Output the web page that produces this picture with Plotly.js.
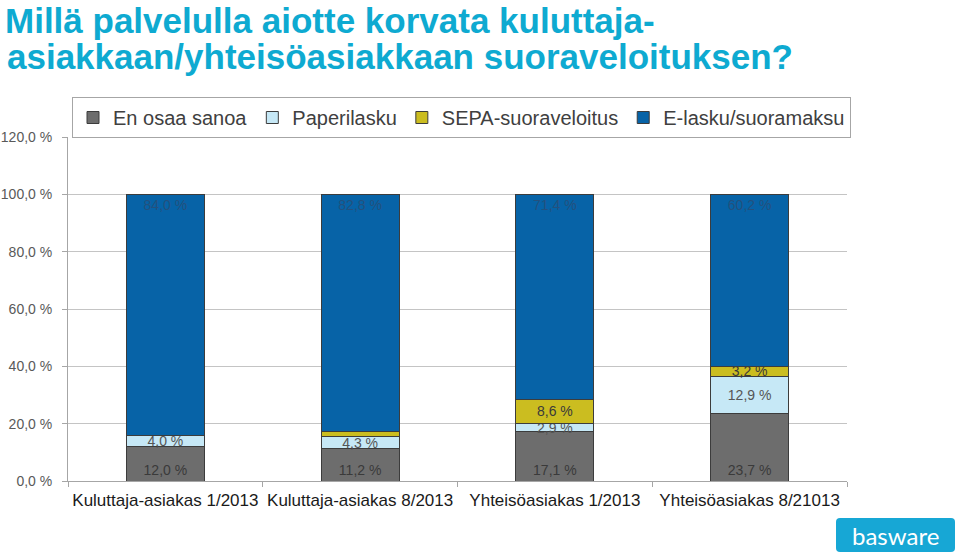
<!DOCTYPE html>
<html>
<head>
<meta charset="utf-8">
<script src="https://cdn.plot.ly/plotly-3.0.1.min.js"></script>
<style>html,body{margin:0;padding:0;background:#fff;}</style>
</head>
<body>
<div id="chart" style="width:960px;height:557px;"></div>
<script>
// ---- data ----
const categories = ["Kuluttaja-asiakas 1/2013", "Kuluttaja-asiakas 8/2013", "Yhteisöasiakas 1/2013", "Yhteisöasiakas 8/21013"];
const seriesNames = ["En osaa sanoa", "Paperilasku", "SEPA-suoraveloitus", "E-lasku/suoramaksu"];
const enOsaaSanoa = [12.0, 11.2, 17.1, 23.7];
const paperilasku = [4.0, 4.3, 2.9, 12.9];
const sepa = [0.0, 1.7, 8.6, 3.2];
const elasku = [84.0, 82.8, 71.4, 60.2];
const yTicks = [0, 20, 40, 60, 80, 100, 120];
const titleLine1 = "Millä palvelulla aiotte korvata kuluttaja-";
const titleLine2 = "asiakkaan/yhteisöasiakkaan suoraveloituksen?";

// ---- styling ----
const colors = ["#6d6d6d", "#c6e8f6", "#cbbd20", "#0763a7"];
const labelColors = ["#3a3a3a", "#555555", "#3a3a3a", "#23517e"];
const anchors = ["start", "middle", "middle", "end"];
const fmt = v => v.toFixed(1).replace(".", ",") + " %";
const FONT = "Liberation Sans, Arial, sans-serif";

const seriesValues = [enOsaaSanoa, paperilasku, sepa, elasku];
const traces = seriesValues.map((vals, i) => ({
  type: "bar",
  name: seriesNames[i],
  x: categories,
  y: vals,
  text: vals.map(v => (v >= 2 ? fmt(v) : "")),
  textposition: "inside",
  insidetextanchor: anchors[i],
  textangle: 0,
  constraintext: "none",
  textfont: {family: FONT, size: 14, color: labelColors[i]},
  hoverinfo: "skip",
  marker: {color: colors[i], line: {color: "#3c3c3c", width: 1}}
}));

const L = 68, R = 847, T = 137, B = 481, W = 960, H = 557;
const px = x => (x - L) / (R - L);
const py = y => (B - y) / (B - T);

const rx = 4 / (R - L), ry = 4 / (B - T);
const x0 = px(836), x1 = px(955), y0 = py(552), y1 = py(518);
const logoPath = `M ${x0 + rx} ${y0} L ${x1 - rx} ${y0} Q ${x1} ${y0} ${x1} ${y0 + ry} L ${x1} ${y1 - ry} Q ${x1} ${y1} ${x1 - rx} ${y1} L ${x0 + rx} ${y1} Q ${x0} ${y1} ${x0} ${y1 - ry} L ${x0} ${y0 + ry} Q ${x0} ${y0} ${x0 + rx} ${y0} Z`;

const layout = {
  width: W, height: H,
  margin: {l: L, r: W - R, t: T, b: H - B, pad: 0},
  paper_bgcolor: "#ffffff",
  plot_bgcolor: "#ffffff",
  barmode: "stack",
  bargap: 0.6,
  separators: ", ",
  font: {family: FONT, color: "#404040"},
  title: {
    text: titleLine1,
    font: {family: FONT, size: 35, weight: "bold", color: "#0eaad1"},
    x: 5 / W, xref: "container", xanchor: "left",
    y: 1 - 8 / H, yref: "container", yanchor: "top",
    pad: {t: 0, l: 0}
  },
  showlegend: true,
  legend: {
    orientation: "h",
    traceorder: "normal",
    x: px(72), xanchor: "left",
    y: py(97), yanchor: "top",
    font: {family: FONT, size: 20, color: "#404040"},
    bordercolor: "#a6a6a6", borderwidth: 1,
    bgcolor: "rgba(255,255,255,0)",
    itemclick: false
  },
  xaxis: {
    type: "category",
    showgrid: false,
    showline: true, linecolor: "#a6a6a6", linewidth: 1,
    ticks: "outside", tickson: "boundaries", ticklen: 5, tickcolor: "#a6a6a6",
    tickangle: 0,
    ticklabelstandoff: 4,
    tickfont: {family: FONT, size: 17, color: "#1a1a1a"},
    fixedrange: true
  },
  yaxis: {
    range: [0, 120],
    tickvals: yTicks,
    ticktext: yTicks.map(fmt),
    showgrid: true, gridcolor: "#c4c4c4", gridwidth: 1,
    zeroline: false,
    showline: true, linecolor: "#a6a6a6", linewidth: 1,
    ticks: "outside", ticklen: 5, tickcolor: "#a6a6a6",
    ticklabelstandoff: 7,
    tickfont: {family: FONT, size: 14, color: "#595959"},
    fixedrange: true
  },
  uniformtext: {minsize: 14, mode: "show"},
  shapes: [{
    type: "path", xref: "paper", yref: "paper",
    path: logoPath, fillcolor: "#17a7d5", line: {width: 0}, layer: "above"
  }],
  annotations: [
    {
      text: titleLine2, xref: "paper", yref: "paper",
      x: px(5), xanchor: "left", y: py(56), yanchor: "middle",
      showarrow: false,
      font: {family: FONT, size: 35, weight: "bold", color: "#0eaad1"}
    },
    {
      text: "basware", xref: "paper", yref: "paper",
      x: (x0 + x1) / 2, xanchor: "center", y: (y0 + y1) / 2, yanchor: "middle",
      showarrow: false,
      font: {family: "Lato, Noto Sans, sans-serif", size: 24, color: "#ffffff"}
    }
  ]
};

Plotly.newPlot("chart", traces, layout, {displayModeBar: false, staticPlot: true});
</script>
</body>
</html>
